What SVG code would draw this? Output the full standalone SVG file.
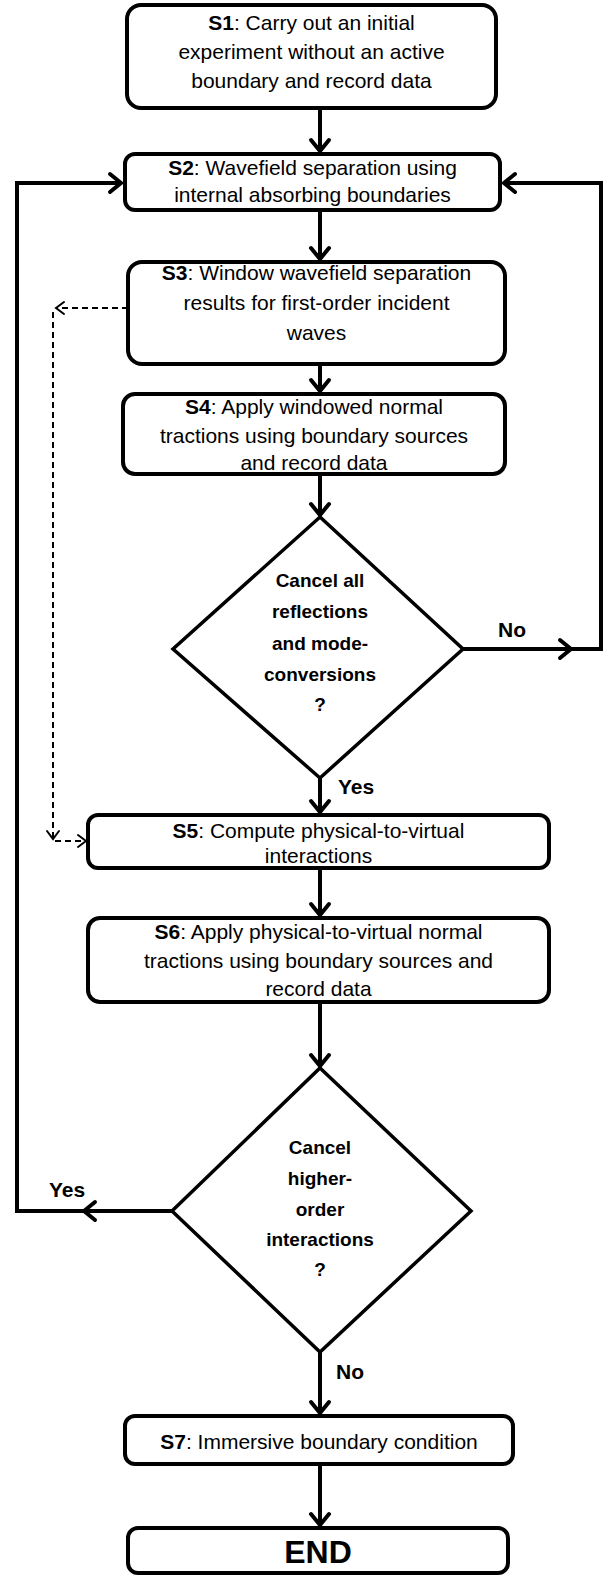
<svg xmlns="http://www.w3.org/2000/svg" width="604" height="1575" viewBox="0 0 604 1575">
<style>
  .box { fill: #fff; stroke: #000; stroke-width: 4; }
  .dia { fill: #fff; stroke: #000; stroke-width: 3.5; stroke-linejoin: miter; }
  .t { font-family: "Liberation Sans", Arial, sans-serif; font-size: 21px; text-anchor: middle; fill: #000; }
  .b { font-weight: bold; }
  .dt { font-family: "Liberation Sans", Arial, sans-serif; font-size: 19px; font-weight: bold; text-anchor: middle; fill: #000; }
  .lbl { font-family: "Liberation Sans", Arial, sans-serif; font-size: 21px; font-weight: bold; fill: #000; }
  .end { font-family: "Liberation Sans", Arial, sans-serif; font-size: 32px; font-weight: bold; text-anchor: middle; fill: #000; }
  .c { fill: none; stroke: #000; stroke-width: 4; stroke-linejoin: miter; }
  .d { fill: none; stroke: #000; stroke-width: 2; stroke-dasharray: 6 4; }
</style>
<defs>
  <marker id="ah" markerUnits="userSpaceOnUse" markerWidth="30" markerHeight="30" viewBox="-15 -15 30 30" refX="0" refY="0" orient="auto">
    <path d="M -11 -9 L 0 0 L -11 9" fill="none" stroke="#000" stroke-width="4" stroke-linecap="round" stroke-linejoin="miter"/>
  </marker>
  <marker id="dh" markerUnits="userSpaceOnUse" markerWidth="20" markerHeight="20" viewBox="-10 -10 20 20" refX="0" refY="0" orient="auto">
    <path d="M -8 -6 L 0 0 L -8 6" fill="none" stroke="#000" stroke-width="2" stroke-linecap="round"/>
  </marker>
</defs>

<g id="connectors">
  <path class="c" d="M 320 109 L 320 151" marker-end="url(#ah)"/>
  <path class="c" d="M 320 210 L 320 259" marker-end="url(#ah)"/>
  <path class="c" d="M 320 364 L 320 391" marker-end="url(#ah)"/>
  <path class="c" d="M 320 474 L 320 515" marker-end="url(#ah)"/>
  <path class="c" d="M 320 778 L 320 812" marker-end="url(#ah)"/>
  <path class="c" d="M 320 868 L 320 915" marker-end="url(#ah)"/>
  <path class="c" d="M 320 1002 L 320 1066" marker-end="url(#ah)"/>
  <path class="c" d="M 320 1352 L 320 1413" marker-end="url(#ah)"/>
  <path class="c" d="M 320 1464 L 320 1525" marker-end="url(#ah)"/>
  <!-- No loop (right) -->
  <path class="c" d="M 463 649 L 571 649" marker-end="url(#ah)"/>
  <path class="c" d="M 569 649 L 601 649 L 601 183 L 504 183" marker-end="url(#ah)"/>
  <!-- Yes loop (left) -->
  <path class="c" d="M 172 1211 L 84 1211" marker-end="url(#ah)"/>
  <path class="c" d="M 86 1211 L 17 1211 L 17 183 L 121 183" marker-end="url(#ah)"/>
  <!-- dashed -->
  <path class="d" d="M 128 308 L 56 308" marker-end="url(#dh)"/>
  <path class="d" d="M 53 312 L 53 839" marker-end="url(#dh)"/>
  <path class="d" d="M 55 841 L 86 841" marker-end="url(#dh)"/>
  <text class="lbl" x="498" y="637">No</text>
  <text class="lbl" x="338" y="794">Yes</text>
  <text class="lbl" x="49" y="1197">Yes</text>
  <text class="lbl" x="336" y="1379">No</text>
</g>

<g id="S1">
  <rect class="box" x="127" y="5" width="369" height="103" rx="14"/>
  <text class="t" x="311.5" y="30"><tspan class="b">S1</tspan>: Carry out an initial</text>
  <text class="t" x="311.5" y="59">experiment without an active</text>
  <text class="t" x="311.5" y="88">boundary and record data</text>
</g>
<g id="S2">
  <rect class="box" x="125" y="154" width="375" height="56" rx="10"/>
  <text class="t" x="312.5" y="175"><tspan class="b">S2</tspan>: Wavefield separation using</text>
  <text class="t" x="312.5" y="202">internal absorbing boundaries</text>
</g>
<g id="S3">
  <rect class="box" x="128" y="262" width="377" height="102" rx="14"/>
  <text class="t" x="316.5" y="280"><tspan class="b">S3</tspan>: Window wavefield separation</text>
  <text class="t" x="316.5" y="310">results for first-order incident</text>
  <text class="t" x="316.5" y="340">waves</text>
</g>
<g id="S4">
  <rect class="box" x="123" y="394" width="382" height="80" rx="12"/>
  <text class="t" x="314" y="414"><tspan class="b">S4</tspan>: Apply windowed normal</text>
  <text class="t" x="314" y="443">tractions using boundary sources</text>
  <text class="t" x="314" y="470">and record data</text>
</g>
<g id="D1">
  <polygon class="dia" points="320,517 463,649 320,778 173,649"/>
  <text class="dt" x="320" y="587">Cancel all</text>
  <text class="dt" x="320" y="618">reflections</text>
  <text class="dt" x="320" y="650">and mode-</text>
  <text class="dt" x="320" y="681">conversions</text>
  <text class="dt" x="320" y="711">?</text>
</g>
<g id="S5">
  <rect class="box" x="88" y="815" width="461" height="53" rx="10"/>
  <text class="t" x="318.5" y="838"><tspan class="b">S5</tspan>: Compute physical-to-virtual</text>
  <text class="t" x="318.5" y="863">interactions</text>
</g>
<g id="S6">
  <rect class="box" x="88" y="918" width="461" height="84" rx="12"/>
  <text class="t" x="318.5" y="939"><tspan class="b">S6</tspan>: Apply physical-to-virtual normal</text>
  <text class="t" x="318.5" y="968">tractions using boundary sources and</text>
  <text class="t" x="318.5" y="996">record data</text>
</g>
<g id="D2">
  <polygon class="dia" points="320,1068 471,1211 320,1352 172,1211"/>
  <text class="dt" x="320" y="1154">Cancel</text>
  <text class="dt" x="320" y="1185">higher-</text>
  <text class="dt" x="320" y="1216">order</text>
  <text class="dt" x="320" y="1246">interactions</text>
  <text class="dt" x="320" y="1276">?</text>
</g>
<g id="S7">
  <rect class="box" x="125" y="1416" width="388" height="48" rx="10"/>
  <text class="t" x="319" y="1449"><tspan class="b">S7</tspan>: Immersive boundary condition</text>
</g>
<g id="END">
  <rect class="box" x="128" y="1528" width="380" height="45" rx="10"/>
  <text class="end" x="318" y="1563">END</text>
</g>
</svg>
